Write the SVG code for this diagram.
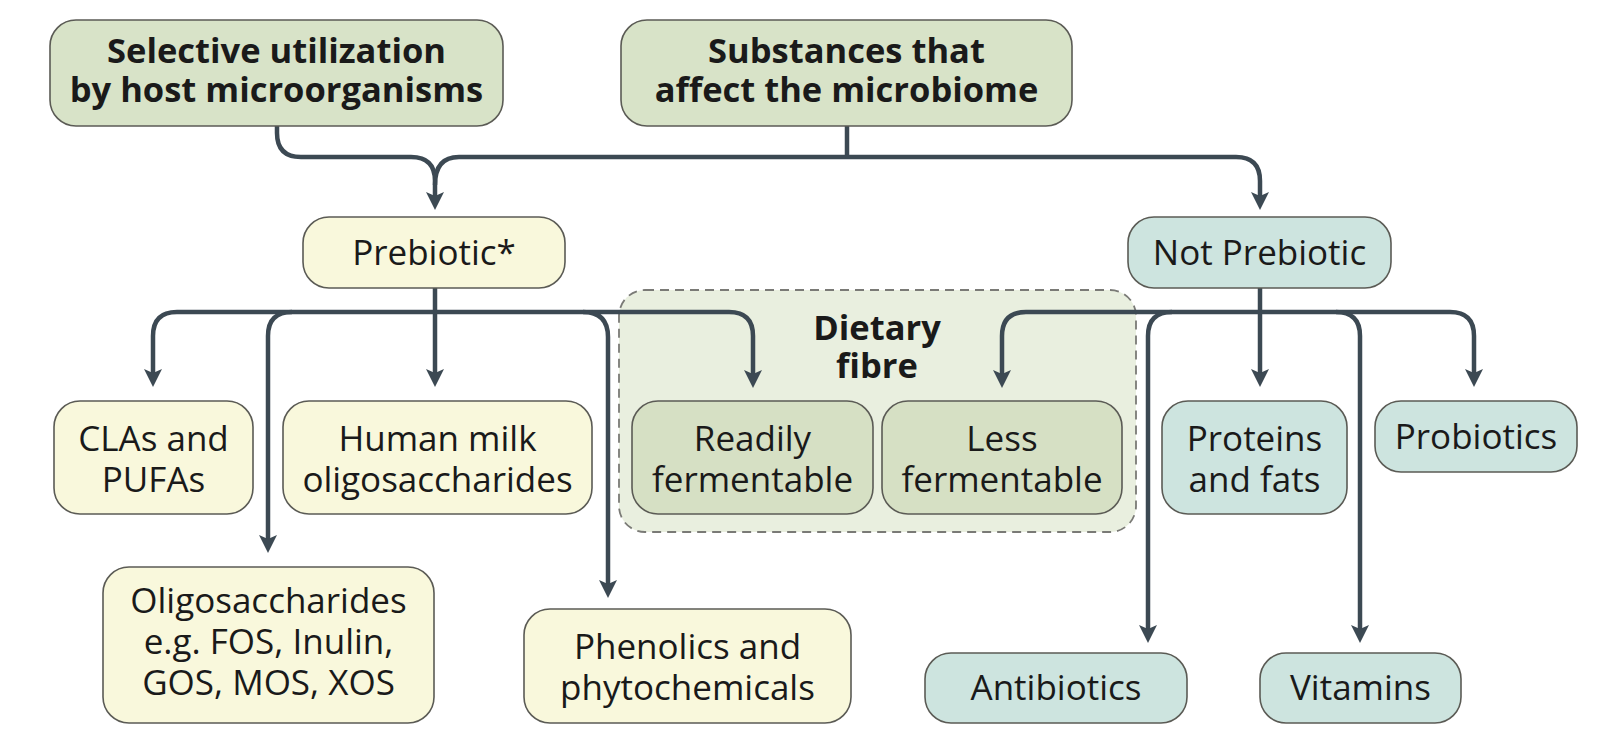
<svg xmlns="http://www.w3.org/2000/svg" width="1604" height="754" viewBox="0 0 1604 754">
<style>
  .box { stroke: #5b5b55; stroke-width: 1.6; }
  .top { fill: #d8e3c8; }
  .pre { fill: #f9f8dc; }
  .not { fill: #cde4df; }
  .fib { fill: #d6e0c4; }
  .grp { fill: #e9efdf; stroke: #7a7a76; stroke-width: 1.8; stroke-dasharray: 9 6; }
  .lbl { font-family: "Open Sans", "Liberation Sans", sans-serif; font-size: 35px; fill: #1a1a1a; text-anchor: middle; }
  .bold { font-weight: bold; font-size: 34.5px; }
  .con { fill: none; stroke: #3c4953; stroke-width: 4.5; stroke-linejoin: round; }
</style>
<defs>
  <marker id="arr" markerUnits="userSpaceOnUse" markerWidth="22" markerHeight="22" viewBox="-11 -11 22 22" refX="0" refY="0" orient="auto-start-reverse">
    <path d="M-9,-9 L9,0 L-9,9 L-5,0 z" fill="#3c4953"/>
  </marker>
</defs>
<rect width="1604" height="754" fill="#ffffff"/>

<g id="dietary-fibre">
  <rect class="grp" x="619" y="290" width="517" height="242" rx="26"/>
  <text class="lbl bold" x="877" y="340"><tspan x="877" y="340">Dietary</tspan><tspan x="877" y="378">fibre</tspan></text>
</g>

<g id="connectors">
  <path class="con" d="M277,126 V133 Q277,157 301,157 H411 Q435,157 435,181 V201" marker-end="url(#arr)"/>
  <path class="con" d="M847,126 V157"/>
  <path class="con" d="M435,185 Q435,157 459,157 H1236 Q1260,157 1260,181 V201" marker-end="url(#arr)"/>
  <path class="con" d="M435,288 V378" marker-end="url(#arr)"/>
  <path class="con" d="M153,378 V336 Q153,312 177,312 H729 Q753,312 753,336 V379" marker-start="url(#arr)" marker-end="url(#arr)"/>
  <path class="con" d="M292,312 Q268,312 268,336 V544" marker-end="url(#arr)"/>
  <path class="con" d="M583,312 Q608,312 608,337 V589" marker-end="url(#arr)"/>
  <path class="con" d="M1260,288 V378" marker-end="url(#arr)"/>
  <path class="con" d="M1002,379 V336 Q1002,312 1026,312 H1450 Q1474,312 1474,336 V378" marker-start="url(#arr)" marker-end="url(#arr)"/>
  <path class="con" d="M1172,312 Q1148,312 1148,336 V634" marker-end="url(#arr)"/>
  <path class="con" d="M1336,312 Q1360,312 1360,336 V634" marker-end="url(#arr)"/>
</g>

<g id="selective">
  <rect class="box top" x="50" y="20" width="453" height="106" rx="26"/>
  <text class="lbl bold"><tspan x="276.5" y="63">Selective utilization</tspan><tspan x="276.5" y="102">by host microorganisms</tspan></text>
</g>
<g id="substances">
  <rect class="box top" x="621" y="20" width="451" height="106" rx="26"/>
  <text class="lbl bold"><tspan x="846.5" y="63">Substances that</tspan><tspan x="846.5" y="102">affect the microbiome</tspan></text>
</g>
<g id="prebiotic">
  <rect class="box pre" x="303" y="217" width="262" height="71" rx="26"/>
  <text class="lbl" x="434" y="265">Prebiotic*</text>
</g>
<g id="not-prebiotic">
  <rect class="box not" x="1128" y="217" width="263" height="71" rx="26"/>
  <text class="lbl" x="1259.5" y="265">Not Prebiotic</text>
</g>
<g id="clas">
  <rect class="box pre" x="54" y="401" width="199" height="113" rx="26"/>
  <text class="lbl"><tspan x="153.5" y="451">CLAs and</tspan><tspan x="153.5" y="492">PUFAs</tspan></text>
</g>
<g id="hmo">
  <rect class="box pre" x="283" y="401" width="309" height="113" rx="26"/>
  <text class="lbl"><tspan x="437.5" y="451">Human milk</tspan><tspan x="437.5" y="492">oligosaccharides</tspan></text>
</g>
<g id="readily">
  <rect class="box fib" x="632" y="401" width="241" height="113" rx="26"/>
  <text class="lbl"><tspan x="752.5" y="451">Readily</tspan><tspan x="752.5" y="492">fermentable</tspan></text>
</g>
<g id="less">
  <rect class="box fib" x="882" y="401" width="240" height="113" rx="26"/>
  <text class="lbl"><tspan x="1002" y="451">Less</tspan><tspan x="1002" y="492">fermentable</tspan></text>
</g>
<g id="proteins">
  <rect class="box not" x="1162" y="401" width="185" height="113" rx="26"/>
  <text class="lbl"><tspan x="1254.5" y="451">Proteins</tspan><tspan x="1254.5" y="492">and fats</tspan></text>
</g>
<g id="probiotics">
  <rect class="box not" x="1375" y="401" width="202" height="71" rx="26"/>
  <text class="lbl" x="1476" y="449">Probiotics</text>
</g>
<g id="oligosaccharides">
  <rect class="box pre" x="103" y="567" width="331" height="156" rx="26"/>
  <text class="lbl"><tspan x="268.5" y="613">Oligosaccharides</tspan><tspan x="268.5" y="654">e.g. FOS, Inulin,</tspan><tspan x="268.5" y="695">GOS, MOS, XOS</tspan></text>
</g>
<g id="phenolics">
  <rect class="box pre" x="524" y="609" width="327" height="114" rx="26"/>
  <text class="lbl"><tspan x="687.5" y="659">Phenolics and</tspan><tspan x="687.5" y="700">phytochemicals</tspan></text>
</g>
<g id="antibiotics">
  <rect class="box not" x="925" y="653" width="262" height="70" rx="26"/>
  <text class="lbl" x="1056" y="700">Antibiotics</text>
</g>
<g id="vitamins">
  <rect class="box not" x="1260" y="653" width="201" height="70" rx="26"/>
  <text class="lbl" x="1360.5" y="700">Vitamins</text>
</g>
</svg>
